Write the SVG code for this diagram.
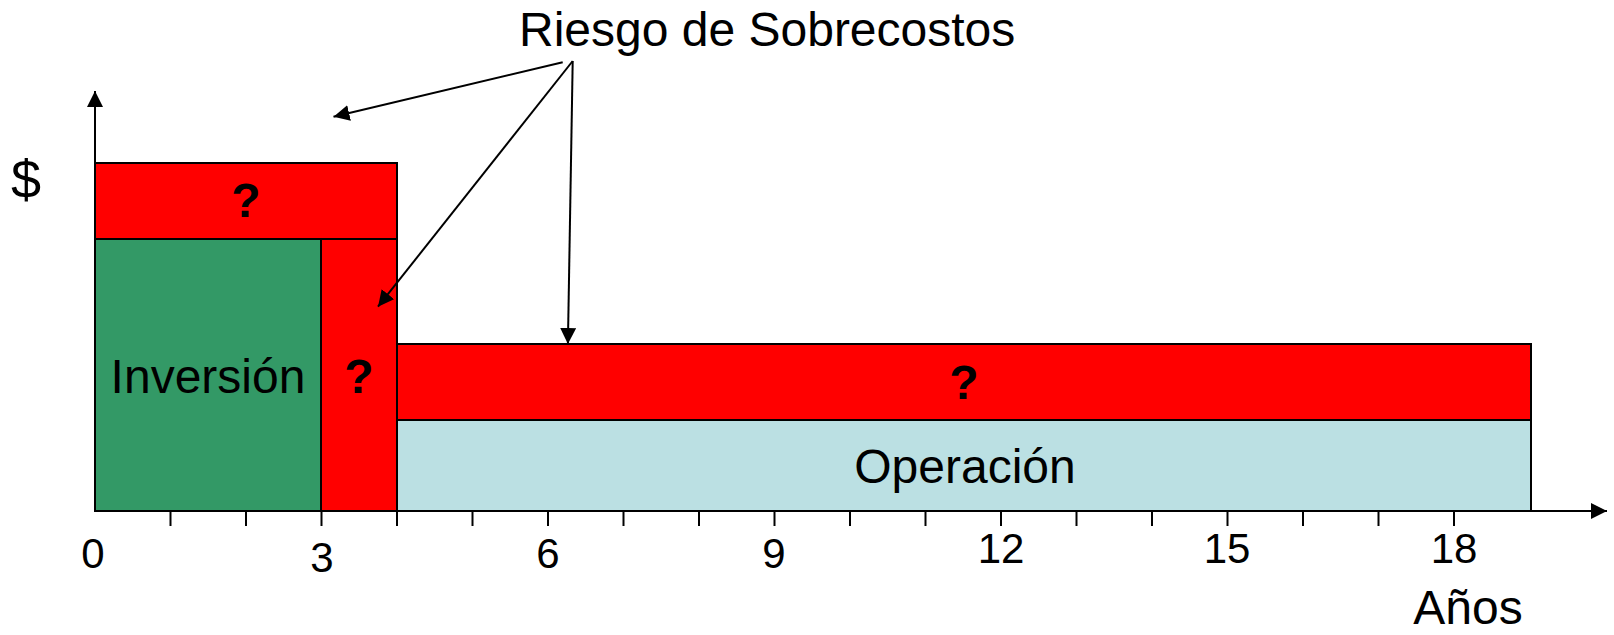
<svg xmlns="http://www.w3.org/2000/svg" width="1614" height="635" viewBox="0 0 1614 635">
<style>
.box{stroke:#000;stroke-width:2}
.red{fill:#FF0000}
.green{fill:#339966}
.blue{fill:#BBE0E3}
text{font-family:"Liberation Sans",Arial,sans-serif;fill:#000}
.lbl{font-size:48px;text-anchor:middle}
.q{font-size:48px;font-weight:bold;text-anchor:middle}
.tick{font-size:42px;text-anchor:middle}
.ln{stroke:#000;stroke-width:2;fill:none}
</style>
<defs>
<marker id="ah" markerUnits="userSpaceOnUse" markerWidth="16" markerHeight="16" refX="16" refY="8" orient="auto" viewBox="0 0 16 16">
<path d="M0,0 L16,8 L0,16 z" fill="#000"/>
</marker>
</defs>
<rect width="1614" height="635" fill="#fff"/>

<g id="top-risk">
<rect class="box red" x="95" y="163" width="302" height="76"/>
<text class="q" x="246" y="217">?</text>
</g>
<g id="inversion">
<rect class="box green" x="95" y="239" width="226" height="272"/>
<text class="lbl" x="208" y="393">Inversión</text>
</g>
<g id="column-risk">
<rect class="box red" x="321" y="239" width="76" height="272"/>
<text class="q" x="359" y="393">?</text>
</g>
<g id="op-risk">
<rect class="box red" x="397" y="344" width="1134" height="76"/>
<text class="q" x="964" y="399">?</text>
</g>
<g id="operation">
<rect class="box blue" x="397" y="420" width="1134" height="91"/>
<text class="lbl" x="965" y="483">Operación</text>
</g>

<g id="axes">
<line class="ln" x1="95" y1="512" x2="95" y2="91" marker-end="url(#ah)"/>
<line class="ln" x1="94" y1="511" x2="1607" y2="511" marker-end="url(#ah)"/>
<g class="ln">
<line x1="170.5" y1="511" x2="170.5" y2="526"/>
<line x1="246" y1="511" x2="246" y2="526"/>
<line x1="321.5" y1="511" x2="321.5" y2="526"/>
<line x1="397" y1="511" x2="397" y2="526"/>
<line x1="472.5" y1="511" x2="472.5" y2="526"/>
<line x1="548" y1="511" x2="548" y2="526"/>
<line x1="623.5" y1="511" x2="623.5" y2="526"/>
<line x1="699" y1="511" x2="699" y2="526"/>
<line x1="774.5" y1="511" x2="774.5" y2="526"/>
<line x1="850" y1="511" x2="850" y2="526"/>
<line x1="925.5" y1="511" x2="925.5" y2="526"/>
<line x1="1001" y1="511" x2="1001" y2="526"/>
<line x1="1076.5" y1="511" x2="1076.5" y2="526"/>
<line x1="1152" y1="511" x2="1152" y2="526"/>
<line x1="1227.5" y1="511" x2="1227.5" y2="526"/>
<line x1="1303" y1="511" x2="1303" y2="526"/>
<line x1="1378.5" y1="511" x2="1378.5" y2="526"/>
<line x1="1454" y1="511" x2="1454" y2="526"/>
</g>
</g>

<g id="axis-labels">
<text x="26" y="198" style="font-size:54px;text-anchor:middle">$</text>
<text class="tick" x="93" y="568">0</text>
<text class="tick" x="322" y="572">3</text>
<text class="tick" x="548" y="568">6</text>
<text class="tick" x="774" y="568">9</text>
<text class="tick" x="1001" y="563">12</text>
<text class="tick" x="1227" y="563">15</text>
<text class="tick" x="1454" y="563">18</text>
<text class="lbl" x="1468" y="624">Años</text>
</g>

<g id="title">
<text x="519" y="46" style="font-size:48px">Riesgo de Sobrecostos</text>
</g>

<g id="connectors" class="ln">
<line x1="562.7" y1="62.3" x2="333.5" y2="116.7" marker-end="url(#ah)"/>
<line x1="572.7" y1="61" x2="378" y2="306.7" marker-end="url(#ah)"/>
<line x1="572.7" y1="61" x2="567.9" y2="344" marker-end="url(#ah)"/>
</g>
</svg>
